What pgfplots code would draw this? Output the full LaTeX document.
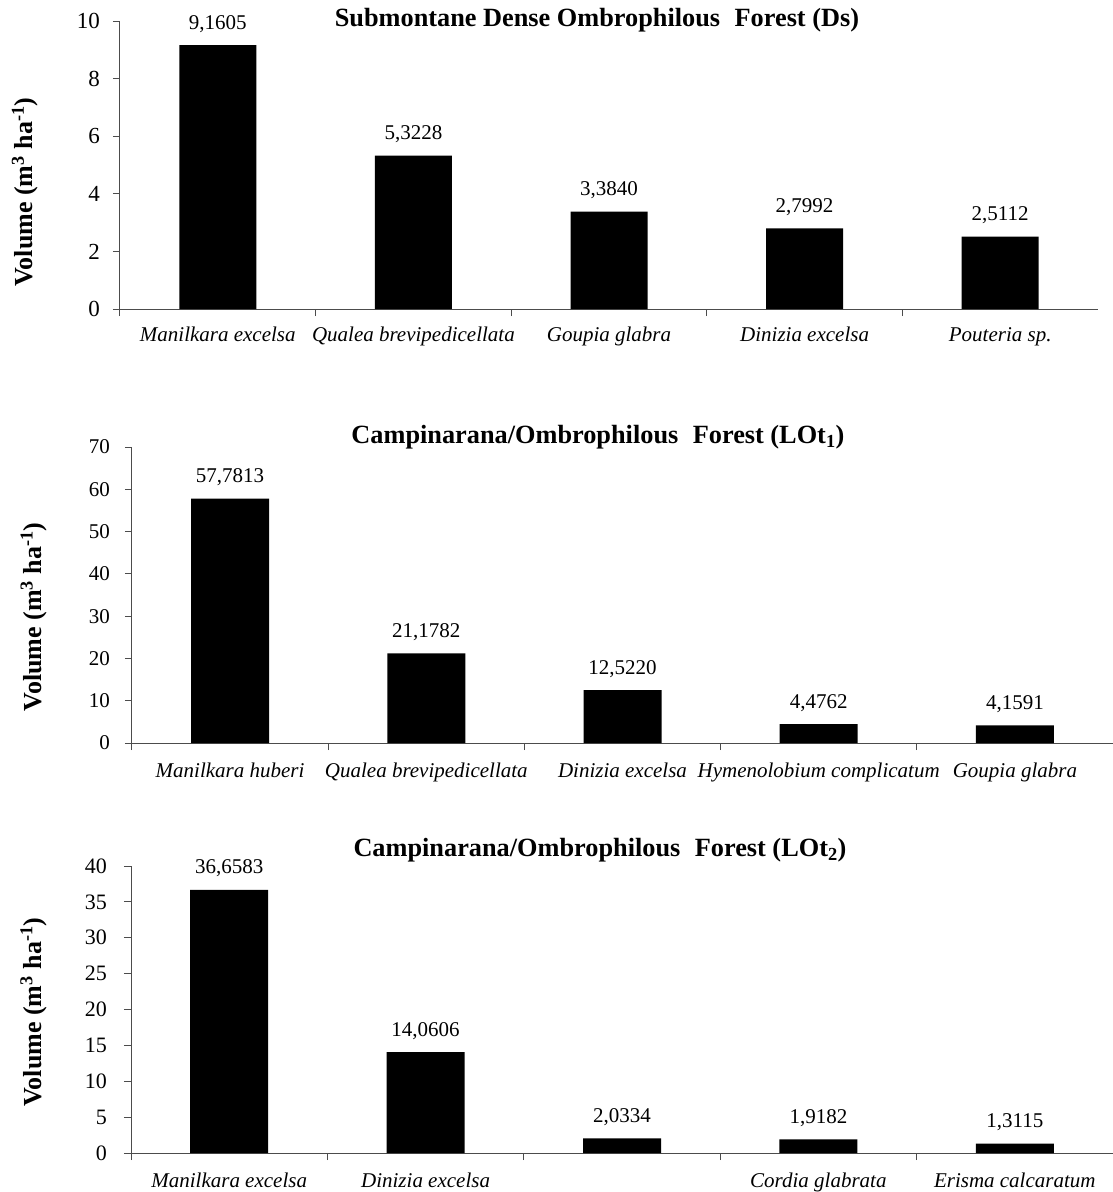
\documentclass[border=0pt]{standalone}
\usepackage{fontspec}
\setmainfont{Liberation Serif}
\usepackage{pgfplots}
\pgfplotsset{compat=1.18}

\pgfplotsset{
  panel/.style={
    scale only axis,
    ybar, 
    axis x line*=bottom, axis y line*=left,
    axis line style={black!70, line width=1pt},
    every tick/.style={black!70, line width=1pt},
    tick align=outside,
    major tick length=7pt,
    xmin=-0.5, xmax=4.5,
    ymin=0,
    xtick={-0.5,0.5,1.5,2.5,3.5},
    xticklabels={,,,,},
    extra x ticks={0,1,2,3,4},
    extra x tick style={major tick length=0pt},
    xticklabel style={font=\itshape\fontsize{21}{21}\selectfont, anchor=base, inner sep=0pt},
    yticklabel style={anchor=east, inner sep=0pt},
    /pgf/number format/assume math mode=true,
    ylabel={Volume (m\textsuperscript{3} ha\textsuperscript{-1})},
    title style={anchor=base, inner sep=0pt, font=\bfseries\fontsize{26.3}{26.3}\selectfont},
    ylabel style={anchor=center, inner sep=0pt, font=\bfseries\fontsize{26}{26}\selectfont},
    nodes near coords,
    point meta=explicit symbolic,
    every node near coord/.append style={anchor=base, inner sep=0pt, yshift=16pt, font=\fontsize{21}{21}\selectfont, black},
  }
}

\pgfplotstableread{
x y lab
0 9.1605 {9,1605}
1 5.3228 {5,3228}
2 3.3840 {3,3840}
3 2.7992 {2,7992}
4 2.5112 {2,5112}
}\dataA
\pgfplotstableread{
x y lab
0 57.7813 {57,7813}
1 21.1782 {21,1782}
2 12.5220 {12,5220}
3 4.4762 {4,4762}
4 4.1591 {4,1591}
}\dataB
\pgfplotstableread{
x y lab
0 36.6583 {36,6583}
1 14.0606 {14,0606}
2 2.0334 {2,0334}
3 1.9182 {1,9182}
4 1.3115 {1,3115}
}\dataC

\begin{document}
\begin{tikzpicture}
% Panel 1
\begin{axis}[panel,
  at={(120pt,-309pt)}, anchor=south west,
  width=978pt, height=288pt,
  ymax=10, ytick={0,2,...,10},
  bar width=77pt,
  yticklabel style={font=\fontsize{23}{23}\selectfont, xshift=-13pt},
  xticklabel style={yshift=-32pt},
  extra x tick labels={{Manilkara excelsa},{Qualea brevipedicellata},{Goupia glabra},{Dinizia excelsa},{Pouteria sp.}},
  title={Submontane Dense Ombrophilous\hspace{0.55em}Forest (Ds)},
  title style={at={(axis description cs:0.4877,0.961)}},
  ylabel style={at={(axis description cs:-0.0971,0.406)}},
]
\addplot[fill=black, draw=none] table[x=x, y=y, meta=lab] {\dataA};
\end{axis}

% Panel 2
\begin{axis}[panel,
  at={(132pt,-743pt)}, anchor=south west,
  width=981pt, height=296pt,
  ymax=70, ytick={0,10,...,70},
  bar width=78pt,
  yticklabel style={font=\fontsize{21}{21}\selectfont, xshift=-15pt},
  xticklabel style={yshift=-34pt},
  extra x tick labels={{Manilkara huberi},{Qualea brevipedicellata},{Dinizia excelsa},{Hymenolobium complicatum},{Goupia glabra}},
  title={Campinarana/Ombrophilous\hspace{0.55em}Forest (LOt\textsubscript{1})},
  title style={at={(axis description cs:0.475,0.99)}},
  ylabel style={at={(axis description cs:-0.1,0.426)}},
]
\addplot[fill=black, draw=none] table[x=x, y=y, meta=lab] {\dataB};
\end{axis}

% Panel 3
\begin{axis}[panel,
  at={(131pt,-1153pt)}, anchor=south west,
  width=982pt, height=287pt,
  ymax=40, ytick={0,5,...,40},
  bar width=78pt,
  yticklabel style={font=\fontsize{22}{22}\selectfont, xshift=-17pt},
  xticklabel style={yshift=-34pt},
  extra x tick labels={{Manilkara excelsa},{Dinizia excelsa},{},{Cordia glabrata},{Erisma calcaratum}},
  title={Campinarana/Ombrophilous\hspace{0.55em}Forest (LOt\textsubscript{2})},
  title style={at={(axis description cs:0.4776,1.013)}},
  ylabel style={at={(axis description cs:-0.0992,0.491)}},
]
\addplot[fill=black, draw=none] table[x=x, y=y, meta=lab] {\dataC};
\end{axis}

\pgfresetboundingbox
\path[use as bounding box] (0,0) rectangle (1113pt,-1192pt);
\end{tikzpicture}
\end{document}
